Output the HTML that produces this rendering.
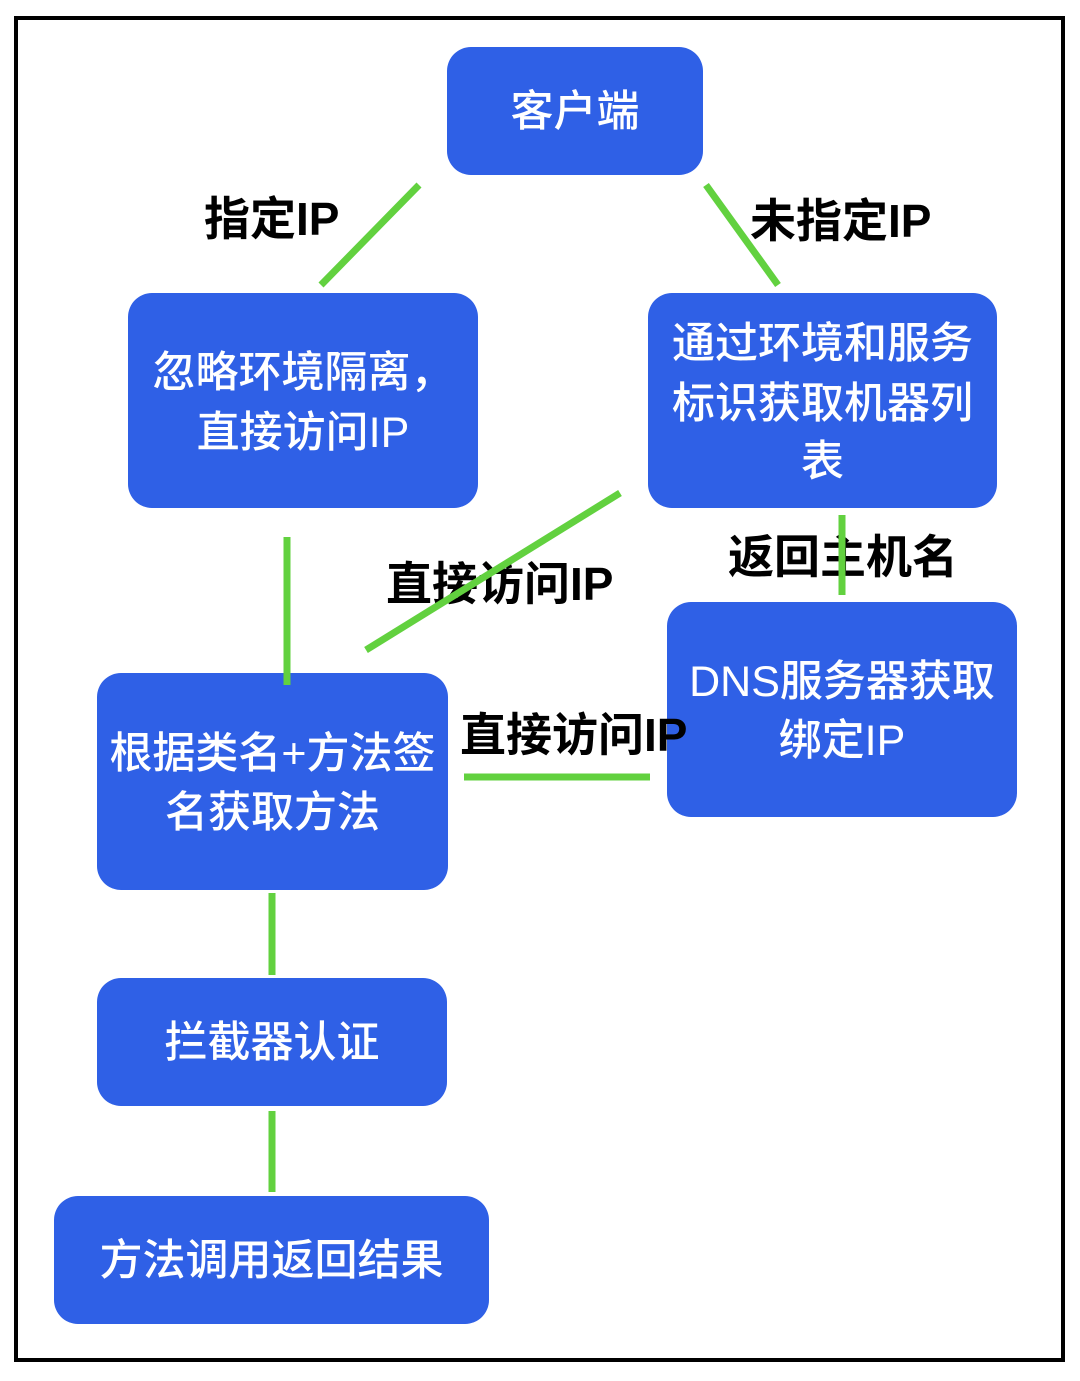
<!DOCTYPE html>
<html>
<head>
<meta charset="utf-8">
<style>
  html, body { margin:0; padding:0; background:#ffffff; }
  #c { position:relative; width:1080px; height:1381px; overflow:hidden; background:#ffffff; }
  .box { position:absolute; background:#2f60e6; border-radius:24px; }
  .t { position:absolute; color:#ffffff; font-family:"Liberation Sans","Noto Sans CJK SC",sans-serif; font-size:43px; line-height:43px; text-align:center; white-space:nowrap; font-weight:500; }
  .lb { position:absolute; color:#000000; font-family:"Liberation Sans","Noto Sans CJK SC",sans-serif; font-size:46px; line-height:46px; white-space:nowrap; font-weight:700; }
  svg { position:absolute; left:0; top:0; }
</style>
</head>
<body>
<div id="c">
  <!-- boxes -->
  <div class="box" style="left:447px;top:47px;width:256px;height:128px;"></div>
  <div class="box" style="left:128px;top:293px;width:350px;height:215px;"></div>
  <div class="box" style="left:648px;top:293px;width:349px;height:215px;"></div>
  <div class="box" style="left:667px;top:602px;width:350px;height:215px;"></div>
  <div class="box" style="left:97px;top:673px;width:351px;height:217px;"></div>
  <div class="box" style="left:97px;top:978px;width:350px;height:128px;"></div>
  <div class="box" style="left:54px;top:1196px;width:435px;height:128px;"></div>

  <!-- box texts -->
  <div class="t" style="left:447px;width:256px;top:91px;">客户端</div>

  <div class="t" style="left:128px;width:350px;top:352px;">忽略环境隔离，</div>
  <div class="t" style="left:128px;width:350px;top:412px;">直接访问IP</div>

  <div class="t" style="left:648px;width:349px;top:323px;">通过环境和服务</div>
  <div class="t" style="left:648px;width:349px;top:383px;">标识获取机器列</div>
  <div class="t" style="left:648px;width:349px;top:441px;">表</div>

  <div class="t" style="left:667px;width:350px;top:661px;">DNS服务器获取</div>
  <div class="t" style="left:667px;width:350px;top:720px;">绑定IP</div>

  <div class="t" style="left:97px;width:351px;top:733px;">根据类名+方法签</div>
  <div class="t" style="left:97px;width:351px;top:792px;">名获取方法</div>

  <div class="t" style="left:97px;width:350px;top:1022px;">拦截器认证</div>

  <div class="t" style="left:54px;width:435px;top:1240px;">方法调用返回结果</div>

  <!-- labels -->
  <div class="lb" style="left:204px;top:196px;">指定IP</div>
  <div class="lb" style="left:750px;top:198px;">未指定IP</div>
  <div class="lb" style="left:386px;top:561px;">直接访问IP</div>
  <div class="lb" style="left:728px;top:534px;">返回主机名</div>
  <div class="lb" style="left:460px;top:712px;">直接访问IP</div>

  <!-- connectors & frame -->
  <svg width="1080" height="1381" viewBox="0 0 1080 1381">
    <rect x="16" y="18" width="1047" height="1342" fill="none" stroke="#000000" stroke-width="4"/>
    <g stroke="#62d13f" stroke-width="7" stroke-linecap="butt" fill="none">
      <line x1="419" y1="185" x2="321" y2="285"/>
      <line x1="706" y1="185" x2="778" y2="285"/>
      <line x1="287" y1="537" x2="287" y2="685"/>
      <line x1="620" y1="493" x2="366" y2="650"/>
      <line x1="842" y1="515" x2="842" y2="595"/>
      <line x1="464" y1="777" x2="650" y2="777"/>
      <line x1="272" y1="893" x2="272" y2="975"/>
      <line x1="272" y1="1111" x2="272" y2="1192"/>
    </g>
  </svg>
</div>
</body>
</html>
